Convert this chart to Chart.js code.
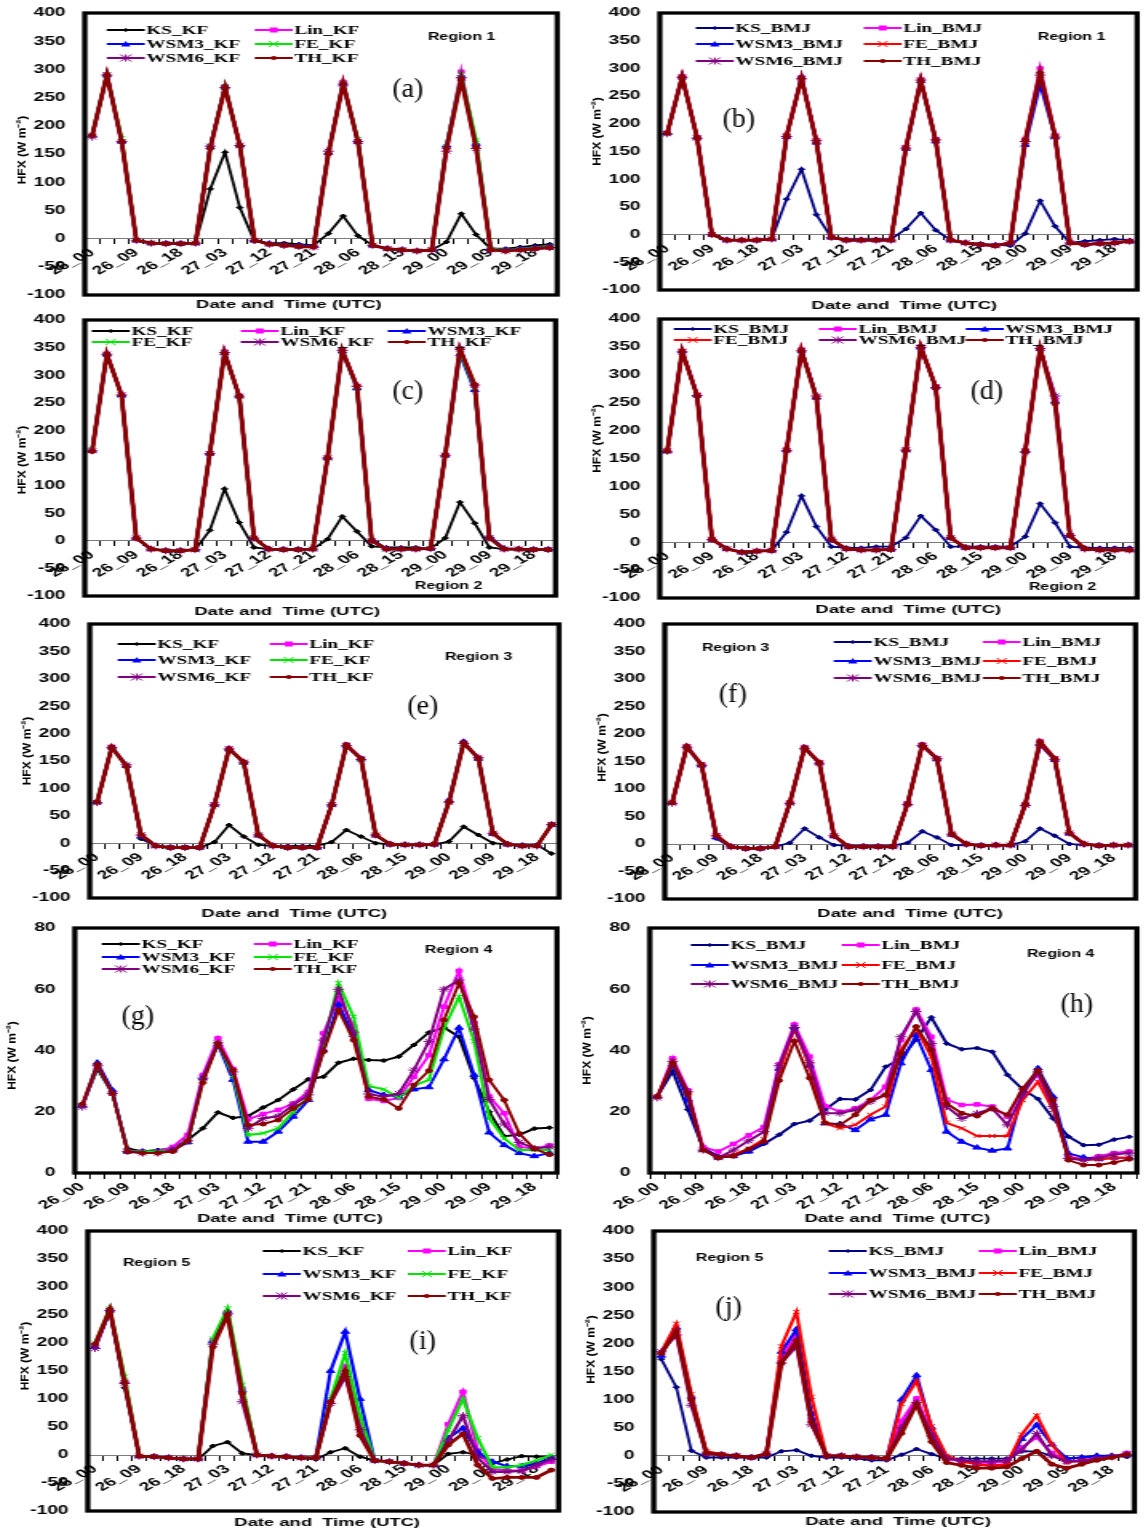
<!DOCTYPE html>
<html>
<head>
<meta charset="utf-8">
<script src="https://cdn.jsdelivr.net/npm/chart.js@4.4.1/dist/chart.umd.min.js"></script>
<style>
  html, body { margin: 0; padding: 0; background: #fff; }
  body { position: relative; width: 1145px; height: 1533px; overflow: hidden; }
  .panel { position: absolute; transform-origin: 0 0; }
</style>
</head>
<body>
<script>
// time axis (3-hourly, 26_00 .. 29_21)
const times = ['26_00','26_03','26_06','26_09','26_12','26_15','26_18','26_21',
  '27_00','27_03','27_06','27_09','27_12','27_15','27_18','27_21',
  '28_00','28_03','28_06','28_09','28_12','28_15','28_18','28_21',
  '29_00','29_03','29_06','29_09','29_12','29_15','29_18','29_21'];
const schemes = ['KS', 'Lin', 'WSM3', 'FE', 'WSM6', 'TH'];

// (a) Region 1, KF
const aKS   = [183,290,172,-3,-8,-8,-8,-8, 88,153,55,-5,-8,-8,-10,-12, 9,40,5,-12,-18,-20,-22,-20, -6,44,7,-18,-18,-15,-12,-10];
const aLin  = [183,291,172,-3,-8,-9,-9,-8, 162,270,166,-3,-10,-12,-14,-15, 152,278,173,-12,-18,-20,-22,-20, 162,296,165,-20,-22,-20,-18,-16];
const aWSM3 = [183,290,172,-3,-8,-9,-9,-8, 162,269,165,-3,-9,-11,-12,-13, 152,274,171,-12,-18,-20,-22,-20, 165,288,168,-18,-20,-18,-16,-14];
const aFE   = [184,291,178,-3,-8,-9,-9,-8, 162,270,166,-3,-10,-12,-14,-15, 152,276,176,-12,-18,-20,-22,-20, 162,290,175,-18,-21,-19,-17,-15];
const aWSM6 = [180,290,172,-3,-8,-9,-9,-8, 164,268,165,-3,-10,-12,-14,-15, 155,274,172,-12,-18,-20,-22,-20, 155,285,160,-20,-22,-20,-18,-16];
const aTH   = [183,290,172,-3,-8,-9,-9,-8, 160,268,165,-3,-10,-12,-14,-15, 150,275,172,-12,-18,-20,-22,-20, 160,282,162,-20,-22,-20,-18,-16];

// (b) Region 1, BMJ
const bKS   = [183,285,175,0,-10,-10,-10,-8, 64,118,36,-5,-8,-8,-8,-8, 10,39,8,-10,-15,-17,-18,-20, 2,61,15,-15,-12,-10,-8,-10];
const bLin  = [184,286,176,0,-10,-10,-10,-8, 180,284,170,-5,-10,-10,-10,-10, 158,280,172,-10,-15,-18,-20,-15, 172,300,180,-15,-18,-16,-15,-12];
const bWSM3 = [183,285,175,0,-10,-10,-10,-8, 176,284,166,-5,-10,-10,-10,-10, 155,277,168,-10,-15,-18,-20,-15, 162,272,176,-15,-18,-16,-15,-12];
const bFE   = [183,285,175,0,-10,-10,-10,-8, 178,282,168,-5,-10,-10,-10,-10, 157,278,170,-10,-15,-18,-20,-15, 170,290,178,-15,-18,-16,-15,-12];
const bWSM6 = [182,284,174,0,-10,-10,-10,-8, 177,281,170,-5,-10,-10,-10,-10, 156,279,171,-10,-15,-18,-20,-15, 168,288,176,-15,-18,-16,-15,-12];
const bTH   = [183,285,175,0,-10,-10,-10,-8, 178,282,168,-5,-10,-10,-10,-10, 157,278,170,-10,-15,-18,-20,-15, 170,292,178,-15,-18,-16,-15,-12];

// (c) Region 2, KF
const cKS   = [162,338,264,5,-15,-18,-18,-16, 19,94,33,-12,-15,-15,-15,-15, 3,44,17,-10,-12,-12,-12,-14, 5,70,32,-12,-15,-15,-16,-16];
const cLin  = [163,339,265,5,-15,-18,-18,-16, 159,343,263,5,-15,-16,-16,-15, 151,346,281,0,-15,-15,-15,-14, 156,349,281,5,-15,-15,-16,-16];
const cWSM3 = [163,338,264,5,-15,-18,-18,-16, 158,340,262,5,-15,-16,-16,-15, 150,343,276,2,-14,-15,-15,-14, 155,338,273,8,-14,-15,-16,-16];
const cFE   = [165,338,264,5,-15,-18,-18,-16, 158,340,262,5,-15,-16,-16,-15, 150,344,278,0,-15,-15,-15,-14, 155,342,278,5,-15,-15,-16,-16];
const cWSM6 = [163,338,264,5,-15,-18,-18,-16, 158,341,262,5,-15,-16,-16,-15, 150,345,280,0,-15,-15,-15,-14, 155,347,282,5,-15,-15,-16,-16];
const cTH   = [162,338,264,5,-15,-18,-18,-16, 158,340,262,5,-15,-16,-16,-15, 150,345,280,0,-15,-15,-15,-14, 155,348,283,5,-15,-15,-16,-16];

// (d) Region 2, BMJ
const dKS   = [163,342,263,5,-12,-18,-16,-15, 18,83,28,-8,-10,-10,-8,-8, 8,47,22,-8,-8,-8,-8,-8, 10,69,35,-8,-10,-10,-10,-10];
const dLin  = [164,343,264,5,-12,-18,-16,-15, 166,345,260,5,-12,-14,-14,-13, 166,351,279,8,-10,-10,-10,-10, 164,348,255,12,-12,-14,-14,-14];
const dWSM3 = [163,342,263,5,-12,-18,-16,-15, 165,343,259,5,-12,-14,-14,-13, 165,349,278,8,-10,-10,-10,-10, 163,346,252,12,-12,-14,-14,-14];
const dFE   = [165,343,265,6,-12,-18,-16,-15, 167,345,261,6,-12,-14,-14,-13, 166,350,279,8,-10,-10,-10,-10, 165,348,258,12,-12,-14,-14,-14];
const dWSM6 = [163,341,263,5,-12,-18,-16,-15, 164,343,262,5,-12,-14,-14,-13, 165,349,277,8,-10,-10,-10,-10, 162,347,262,12,-12,-14,-14,-14];
const dTH   = [163,342,263,5,-12,-18,-16,-15, 165,343,259,5,-12,-14,-14,-13, 165,350,278,8,-10,-10,-10,-10, 163,347,248,12,-12,-14,-14,-14];

// (e) Region 3, KF
const eKS   = [75,175,140,8,-5,-8,-8,-8, 2,33,12,-3,-5,-5,-5,-5, 2,24,12,0,-2,-2,-2,-2, 3,30,15,0,-2,-3,-3,-19];
const eLin  = [75,176,141,15,-5,-8,-8,-8, 71,173,148,15,-5,-8,-8,-8, 71,180,155,15,-2,-3,-3,-2, 76,184,156,18,-2,-5,-5,34];
const eWSM3 = [75,175,141,12,-5,-8,-8,-8, 70,172,147,14,-5,-8,-8,-8, 70,178,154,14,-2,-3,-3,-2, 78,185,154,17,-2,-5,-5,33];
const eFE   = [75,175,142,16,-5,-8,-8,-8, 70,172,147,15,-5,-8,-8,-8, 70,179,154,15,-2,-3,-3,-2, 75,183,155,18,-2,-5,-5,34];
const eWSM6 = [74,175,143,15,-5,-8,-8,-8, 70,172,148,15,-5,-8,-8,-8, 70,178,153,15,-2,-3,-3,-2, 75,182,156,18,-2,-5,-5,34];
const eTH   = [75,175,140,15,-5,-8,-8,-8, 70,172,148,15,-5,-8,-8,-8, 70,179,154,15,-2,-3,-3,-2, 75,183,155,18,-2,-5,-5,34];

// (f) Region 3, BMJ
const fKS   = [75,177,144,10,-5,-8,-8,-5, 2,28,12,-2,-3,-3,-3,-3, 2,23,12,-2,-2,-2,-2,-2, 5,28,15,0,-2,-2,-2,-2];
const fLin  = [75,178,145,15,-5,-8,-8,-5, 76,176,149,15,-5,-5,-5,-5, 74,181,156,18,0,-3,-2,-2, 73,187,156,20,0,-3,-2,-2];
const fWSM3 = [75,177,143,12,-5,-8,-8,-5, 75,175,147,14,-5,-5,-5,-5, 73,180,154,17,0,-3,-2,-2, 72,182,153,19,0,-3,-2,-2];
const fFE   = [76,177,145,16,-5,-8,-8,-5, 76,175,148,15,-5,-5,-5,-5, 73,180,155,18,0,-3,-2,-2, 72,185,156,20,0,-3,-2,-2];
const fWSM6 = [74,176,143,15,-5,-8,-8,-5, 74,174,147,15,-5,-5,-5,-5, 72,179,155,18,0,-3,-2,-2, 70,180,154,20,0,-3,-2,-2];
const fTH   = [75,177,144,15,-5,-8,-8,-5, 75,175,148,15,-5,-5,-5,-5, 73,180,155,18,0,-3,-2,-2, 72,186,155,20,0,-3,-2,-2];

// (g) Region 4, KF
const gKS   = [22,34,26,8,7,7.5,8,10.8, 14.6,19.8,18,18.6,21.4,23.8,27.3,30.6, 31.4,36,37.3,36.9,36.7,38,41.8,45.9, 47.5,44.5,31,20,12,12.5,14.5,14.8];
const gLin  = [22,35,26,7,7,7,8.5,12.5, 32,44,34,17.5,19.3,20.6,22.7,26.5, 45.6,57,48,24.2,23.5,24.5,31.4,38.5, 54.3,66,49,25,19.5,8.5,8,9];
const gWSM3 = [22,36,27,7,7,7,7.5,10, 31,42,30.4,10.2,10.2,13.5,18.4,23.8, 40.2,55,45,27.1,25.5,25,27.3,28, 37.1,47.4,32,13.2,9.1,6.5,5.5,6.5];
const gFE   = [22,35,26,7,7,7,7.5,10.5, 30.5,42.5,32,12.4,13,14.6,20,24.9, 42.3,62,51,28.4,27.3,24.6,28.5,30.4, 47.2,57.5,43,17.8,11.3,7.5,7.5,7.5];
const gWSM6 = [21.5,35,26,7,6.5,6.5,7.5,10.5, 31,42.5,33,14.6,17.8,18.6,22.2,25.5, 43.4,60,46,25.8,24.9,26,33.6,42.9, 60,63,47,24,16,10,8,8.5];
const gTH   = [22.5,35.5,26,7,6.5,6.5,7,10.5, 29.5,42.3,33.6,15.7,16,17.3,21.1,24, 39.6,53.2,43.4,24.9,24,21.1,28.7,33.4, 50,62,51,30.4,23.8,12.9,7.9,6];

// (h) Region 4, BMJ
const hKS   = [25,33.2,20.7,8.2,5.5,6,7,9.5, 12.5,16,17.1,20.6,24.2,24,27.1,34.7, 37.4,43.6,50.8,42.3,40.4,40.8,39.6,32, 27.3,24.2,17.8,11.9,9.1,9.2,10.9,11.8];
const hLin  = [25,37.5,27,8.5,7,9.5,12.3,15, 35.5,48.5,38,21.9,20,21.1,23.8,28.2, 43.4,53.4,44.5,24,22.2,22.4,21.7,18.4, 27.1,32,22.2,5.3,4.5,5.5,6.5,7];
const hWSM3 = [25,35.5,24,7.5,5,5.5,7,10, 34,47.5,35,16.2,16,14,17.5,19, 35.8,45,33.6,13.5,10.2,8.3,7.3,8, 26,34.2,24.9,6.4,5.1,4.5,5,5];
const hFE   = [25,36.5,26,7.5,5,6,8,11, 33,47,35,16.2,14.6,15.7,19,21.7, 40.2,47.2,38,16.4,14.6,12.1,12.1,12.1, 23.8,29.8,20.6,5.3,4.2,4.5,5,5];
const hWSM6 = [24.5,36.5,26.5,7.5,5,7.5,10.5,13.5, 35,47.5,36,19.5,19.5,20.6,23.3,25.5, 44.5,52.7,42.3,21.7,17.8,19.5,21.1,15.7, 25.5,33,21.7,4.8,4.2,5,6,6.5];
const hTH   = [25,36,26,7.5,5,5.5,7.8,10.3, 30.2,43,31,16.4,15.7,19,23.8,25.5, 39,47.8,40.2,22.7,19.5,18.6,21.1,19, 27.6,33.6,23.8,4.2,2.6,2.6,3.4,4.5];

// (i) Region 5, KF
const iKS   = [195,255,120,-2,-3,-5,-8,-8, 16,23,3,0,-3,-5,-5,-8, 5,12,-3,-10,-12,-15,-18,-18, 2,5,0,-15,-8,-2,-3,-3];
const iLin  = [197,260,132,-2,-3,-5,-7,-7, 205,255,118,0,-2,-3,-5,-5, 95,158,55,-10,-12,-15,-18,-18, 55,113,8,-25,-28,-28,-20,-12];
const iWSM3 = [193,258,130,-2,-3,-5,-7,-7, 203,257,115,0,-2,-3,-5,-5, 150,220,100,-10,-12,-15,-18,-18, 30,48,5,-12,-20,-20,-15,-5];
const iFE   = [200,262,140,-2,-3,-5,-7,-7, 208,262,125,0,-2,-3,-5,-5, 100,182,70,-10,-12,-15,-18,-18, 45,100,30,-22,-22,-18,-10,0];
const iWSM6 = [190,258,128,-2,-3,-5,-7,-7, 198,252,95,0,-2,-3,-5,-5, 92,140,45,-10,-12,-15,-18,-18, 25,70,-5,-30,-30,-28,-18,-8];
const iTH   = [198,260,130,-2,-3,-5,-7,-7, 193,250,110,0,-2,-3,-5,-5, 95,150,35,-10,-12,-15,-18,-18, 18,38,-18,-42,-40,-40,-40,-27];

// (j) Region 5, BMJ
const jKS   = [172,122,9,-3,-3,-3,-3,-3, 8,10,0,-3,-3,-5,-8,-8, 2,12,3,-5,-5,-5,-5,-5, 8,8,0,-5,-3,0,0,-2];
const jLin  = [183,225,100,5,2,0,-3,4, 175,215,65,0,0,-2,-3,-5, 62,102,40,-5,-10,-12,-12,-10, 15,33,5,-10,-8,-5,-2,5];
const jWSM3 = [178,228,105,5,2,0,-3,4, 185,225,75,0,0,-2,-3,-5, 100,143,50,-3,-8,-15,-18,-15, 30,55,20,-5,-3,0,0,2];
const jFE   = [185,235,110,8,3,0,-3,5, 195,256,105,0,0,-2,-3,-5, 92,133,52,0,-10,-15,-18,-15, 38,72,20,-12,-8,-5,-2,3];
const jWSM6 = [185,215,90,3,2,0,-3,3, 165,195,55,0,0,-2,-3,-5, 50,95,35,-5,-8,-10,-10,-8, 10,40,0,-10,-10,-5,-2,3];
const jTH   = [182,222,100,5,2,0,-3,3, 165,205,60,0,0,-2,-3,-5, 40,92,25,-12,-17,-22,-22,-20, -5,8,-15,-22,-15,-8,-3,2];

// ---------------------------------------------------------------------------
const SX = 1.6;            // horizontal stretch of the whole figure
const YW = 48, PT = 22, PR = 4, PB = 62;
const FONT = '"Liberation Sans", Arial, sans-serif';
const SERIF = '"Liberation Serif", "Times New Roman", serif';

const colours = {
  KF:  { KS: '#000000', Lin: '#ff00ff', WSM3: '#0000ff', FE: '#00e600', WSM6: '#800080', TH: '#8b0000' },
  BMJ: { KS: '#000080', Lin: '#ff00ff', WSM3: '#0000ff', FE: '#ff0000', WSM6: '#800080', TH: '#8b0000' }
};
const marks = { KS: ['rectRot', 2], Lin: ['rect', 2.5], WSM3: ['triangle', 3], FE: ['crossRot', 3], WSM6: ['star', 3.5], TH: ['circle', 2] };

const panels = [
  { tag: '(a)', cu: 'KF',  series: [aKS, aLin, aWSM3, aFE, aWSM6, aTH], box: [85, 13, 562, 295],  yr: [-100, 400, 50], region: 'Region 1', cols: 2, legX: [22, 170], legY: [17, 31, 45], reg: [343, 24], let: [323, 77], xt: [-32, 10], yt: -4 },
  { tag: '(b)', cu: 'BMJ', series: [bKS, bLin, bWSM3, bFE, bWSM6, bTH], box: [660, 13, 1141, 290], yr: [-100, 400, 50], region: 'Region 1', cols: 2, legX: [36, 204], legY: [15, 31, 48], reg: [378, 24], let: [79, 107], xt: [6, 16], yt: -20 },
  { tag: '(c)', cu: 'KF',  series: [cKS, cLin, cWSM3, cFE, cWSM6, cTH], box: [85, 320, 561, 596], yr: [-100, 400, 50], region: 'Region 2', cols: 3, legX: [7, 156, 303], legY: [11, 22], reg: [330, 266], let: [323, 72], xt: [-33, 16], yt: 2 },
  { tag: '(d)', cu: 'BMJ', series: [dKS, dLin, dWSM3, dFE, dWSM6, dTH], box: [660, 319, 1141, 598], yr: [-100, 400, 50], region: 'Region 2', cols: 3, legX: [14, 159, 306], legY: [10, 21], reg: [369, 268], let: [327, 73], xt: [10, 12], yt: -20 },
  { tag: '(e)', cu: 'KF',  series: [eKS, eLin, eWSM3, eFE, eWSM6, eTH], box: [90, 624, 564, 898], yr: [-100, 400, 50], region: 'Region 3', cols: 2, legX: [28, 180], legY: [20, 36, 53], reg: [355, 33], let: [333, 83], xt: [-30, 16], yt: -10 },
  { tag: '(f)', cu: 'BMJ', series: [fKS, fLin, fWSM3, fFE, fWSM6, fTH], box: [665, 624, 1141, 899], yr: [-100, 400, 50], region: 'Region 3', cols: 2, legX: [169, 318], legY: [18, 37, 54], reg: [37, 24], let: [68, 71], xt: [10, 15], yt: -14 },
  { tag: '(g)', cu: 'KF',  series: [gKS, gLin, gWSM3, gFE, gWSM6, gTH], box: [75, 928, 562, 1173], yr: [0, 80, 20], region: 'Region 4', cols: 2, legX: [27, 179], legY: [16, 29, 41], reg: [350, 22], let: [63, 89], xt: [-26, 46], yt: 5 },
  { tag: '(h)', cu: 'BMJ', series: [hKS, hLin, hWSM3, hFE, hWSM6, hTH], box: [650, 928, 1141, 1173], yr: [0, 80, 20], region: 'Region 4', cols: 2, legX: [41, 192], legY: [17, 37, 56], reg: [377, 26], let: [427, 77], xt: [4, 46], yt: 0 },
  { tag: '(i)', cu: 'KF',  series: [iKS, iLin, iWSM3, iFE, iWSM6, iTH], box: [88, 1231, 564, 1511], yr: [-100, 400, 50], region: 'Region 5', cols: 2, legX: [175, 320], legY: [20, 43, 65], reg: [35, 32], let: [335, 111], xt: [4, 12], yt: -15 },
  { tag: '(j)', cu: 'BMJ', series: [jKS, jLin, jWSM3, jFE, jWSM6, jTH], box: [654, 1231, 1139, 1512], yr: [-100, 400, 50], region: 'Region 5', cols: 2, legX: [175, 325], legY: [20, 42, 63], reg: [42, 27], let: [75, 77], xt: [4, 10], yt: -22 }
];

// little marker drawer for the hand made legend
function drawMark(ctx, style, x, y, r, col) {
  ctx.fillStyle = col; ctx.strokeStyle = col; ctx.lineWidth = 1;
  ctx.beginPath();
  if (style === 'circle') { ctx.arc(x, y, r, 0, Math.PI * 2); ctx.fill(); }
  else if (style === 'rect') { ctx.rect(x - r, y - r, 2 * r, 2 * r); ctx.fill(); }
  else if (style === 'rectRot') { ctx.moveTo(x, y - r); ctx.lineTo(x + r, y); ctx.lineTo(x, y + r); ctx.lineTo(x - r, y); ctx.closePath(); ctx.fill(); }
  else if (style === 'triangle') { ctx.moveTo(x, y - r); ctx.lineTo(x + r, y + r * 0.8); ctx.lineTo(x - r, y + r * 0.8); ctx.closePath(); ctx.fill(); }
  else if (style === 'crossRot') { ctx.moveTo(x - r, y - r); ctx.lineTo(x + r, y + r); ctx.moveTo(x + r, y - r); ctx.lineTo(x - r, y + r); ctx.stroke(); }
  else if (style === 'star') {
    ctx.moveTo(x - r, y - r); ctx.lineTo(x + r, y + r); ctx.moveTo(x + r, y - r); ctx.lineTo(x - r, y + r);
    ctx.moveTo(x, y - r); ctx.lineTo(x, y + r); ctx.stroke();
  }
}

// frame, legend, region text, panel letter and axis titles
const decor = {
  id: 'decor',
  afterDraw(chart) {
    const p = chart.options.plugins.decor;
    const ctx = chart.ctx, a = chart.chartArea;
    ctx.save();
    ctx.lineWidth = 3.3; ctx.strokeStyle = '#000';
    ctx.strokeRect(a.left, a.top, a.right - a.left, a.bottom - a.top);

    chart.data.datasets.forEach((ds, k) => {
      const row = Math.floor(k / p.cols), col = k % p.cols;
      const x0 = a.left + p.legX[col] / SX, y = a.top + p.legY[row];
      const len = 38 / SX;
      ctx.strokeStyle = ds.borderColor; ctx.lineWidth = 2;
      ctx.beginPath(); ctx.moveTo(x0, y); ctx.lineTo(x0 + len, y); ctx.stroke();
      drawMark(ctx, ds.pointStyle, x0 + len / 2, y, ds.pointRadius, ds.borderColor);
      ctx.fillStyle = '#000'; ctx.font = 'bold 12px ' + SERIF;
      ctx.textAlign = 'left'; ctx.textBaseline = 'middle';
      ctx.fillText(ds.label, x0 + len + 1, y + 0.5);
    });

    ctx.fillStyle = '#000';
    ctx.font = 'bold 10px ' + FONT; ctx.textAlign = 'left'; ctx.textBaseline = 'middle';
    ctx.fillText(p.region, a.left + p.reg[0] / SX, a.top + p.reg[1]);

    ctx.font = 'bold 11.5px ' + FONT; ctx.textAlign = 'center';
    ctx.fillText('Date and  Time (UTC)', (a.left + a.right) / 2 + p.xt[0] / SX, a.bottom + p.xt[1]);

    ctx.save();
    ctx.translate(a.left + p.let[0] / SX, a.top + p.let[1]);
    ctx.scale(1 / SX, 1);
    ctx.font = '28px ' + SERIF; ctx.textAlign = 'center'; ctx.textBaseline = 'middle';
    ctx.fillText(p.tag, 0, 0);
    ctx.restore();

    ctx.save();
    ctx.translate(a.left - 62 / SX, (a.top + a.bottom) / 2 + p.yt);
    ctx.scale(1 / SX, 1);
    ctx.rotate(-Math.PI / 2);
    ctx.font = 'bold 12px ' + FONT; ctx.textAlign = 'center'; ctx.textBaseline = 'middle';
    ctx.fillText('HFX (W m\u207B\u00B2)', 0, 0);
    ctx.restore();
    ctx.restore();
  }
};

function makePanel(p) {
  const [L, T, R, B] = p.box;
  const px = L - YW * SX, py = T - PT;
  const cw = Math.round((R - px) / SX + PR), ch = B - T + PT + PB;
  const wrap = document.createElement('div');
  wrap.className = 'panel';
  wrap.style.left = px + 'px'; wrap.style.top = py + 'px';
  wrap.style.width = cw + 'px'; wrap.style.height = ch + 'px';
  wrap.style.transform = 'scaleX(' + SX + ')';
  const cv = document.createElement('canvas');
  cv.width = cw; cv.height = ch;
  wrap.appendChild(cv);
  document.body.appendChild(wrap);

  const flat = p.yr[0] < 0;  // region 1,2,3,5 panels: many series nearly identical
  const datasets = schemes.map((s, k) => {
    const col = colours[p.cu][s];
    let bw = 2;
    if (flat) bw = s === 'TH' ? 2.8 : (s === 'KS' ? 1.8 : 2.2);
    return {
      label: s + '_' + p.cu,
      data: p.series[k],
      borderColor: col, backgroundColor: col,
      pointBackgroundColor: col, pointBorderColor: col,
      borderWidth: bw, tension: 0, fill: false,
      pointStyle: marks[s][0], pointRadius: marks[s][1], pointBorderWidth: 1,
      order: 5 - k
    };
  });

  new Chart(cv, {
    type: 'line',
    data: { labels: times, datasets },
    options: {
      responsive: false, animation: false, devicePixelRatio: 1,
      layout: { padding: { left: 0, top: PT, right: PR, bottom: PB } },
      plugins: { legend: { display: false }, tooltip: { enabled: false }, decor: p },
      scales: {
        x: {
          position: { y: 0 }, offset: true,
          grid: { display: true, drawOnChartArea: false, drawTicks: true, tickLength: 5, offset: true, color: '#000', lineWidth: 1 },
          border: { display: true, color: '#7a7a7a', width: 1 },
          ticks: {
            autoSkip: false, maxRotation: 40, minRotation: 40, padding: 2, color: '#000',
            font: { family: FONT, size: 12, weight: 'bold' },
            callback(v, i) { return i % 3 === 0 ? times[i] : ''; }
          }
        },
        y: {
          min: p.yr[0], max: p.yr[1],
          ticks: { stepSize: p.yr[2], padding: 12, color: '#000', font: { family: FONT, size: 12, weight: 'bold' } },
          grid: { display: false, drawTicks: false },
          border: { display: false },
          afterFit(scale) { scale.width = YW; }
        }
      }
    },
    plugins: [decor]
  });
}

panels.forEach(makePanel);
</script>
</body>
</html>
